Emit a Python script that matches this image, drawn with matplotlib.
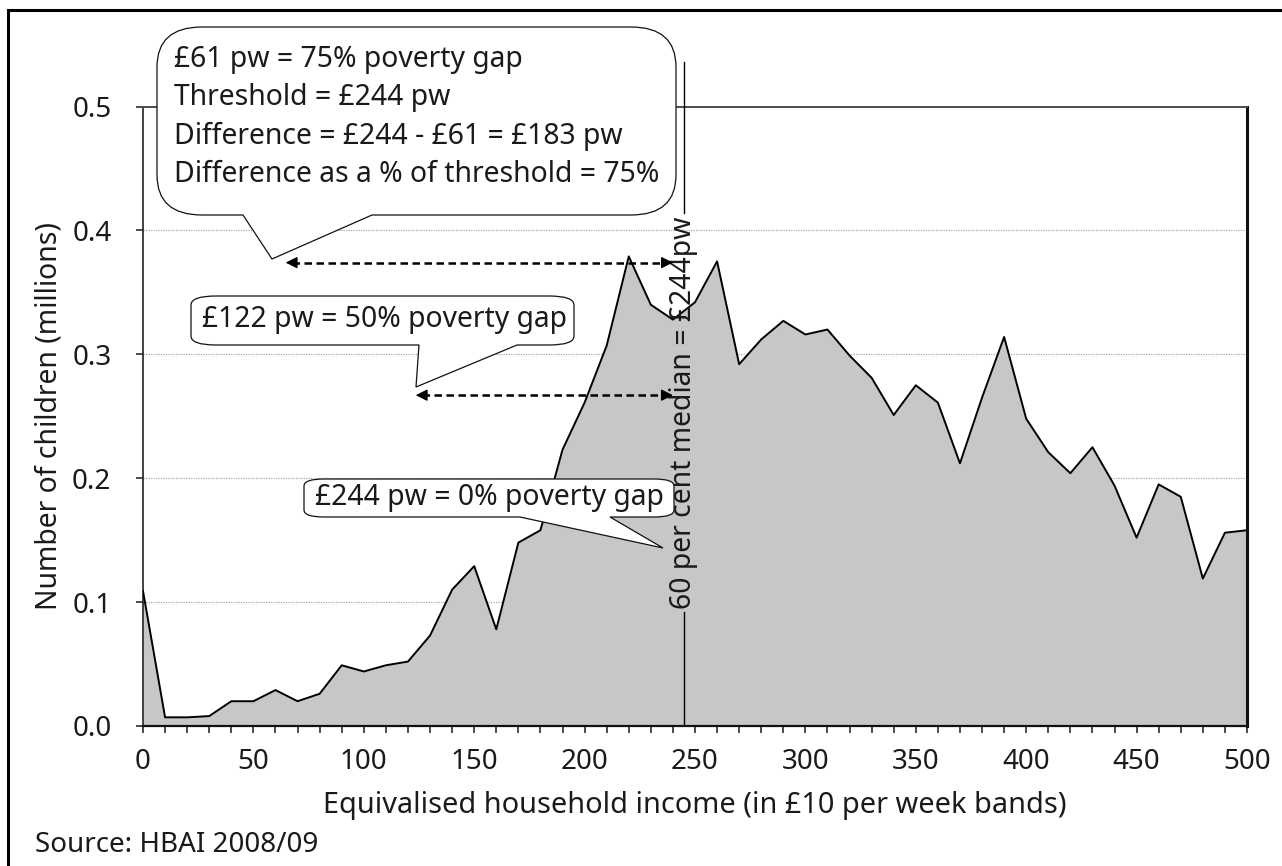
import numpy as np
import matplotlib
matplotlib.use('Agg')
import matplotlib.pyplot as plt
from matplotlib.path import Path
from matplotlib.patches import PathPatch
from matplotlib.lines import Line2D

plt.rcParams['font.family'] = ['Noto Sans', 'DejaVu Sans']

# ── Data ──────────────────────────────────────────────────────────────────────
income_band = np.arange(0, 510, 10)
children_m = [0.109, 0.007, 0.007, 0.008, 0.020, 0.020, 0.029, 0.020, 0.026, 0.049,
              0.044, 0.049, 0.052, 0.073, 0.110, 0.129, 0.078, 0.148, 0.158, 0.223,
              0.261, 0.307, 0.379, 0.340, 0.328, 0.342, 0.375, 0.292, 0.312, 0.327,
              0.316, 0.320, 0.299, 0.281, 0.251, 0.275, 0.261, 0.212, 0.265, 0.314,
              0.248, 0.221, 0.204, 0.225, 0.194, 0.152, 0.195, 0.185, 0.119, 0.156,
              0.158]

threshold_x = 245          # 60 per cent median line
gap_75_x = 64.6            # £61 pw
gap_50_x = 123.5           # £122 pw
arrow_end_x = 240
arrow_75_y = 0.374
arrow_50_y = 0.267

y_ticks = [0.0, 0.1, 0.2, 0.3, 0.4, 0.5]
x_ticks = [0, 50, 100, 150, 200, 250, 300, 350, 400, 450, 500]

W, H = 1282, 866
FS = 20
FS_NOTE = 20.4

# ── Figure ────────────────────────────────────────────────────────────────────
fig = plt.figure(figsize=(W / 100, H / 100), dpi=100)
fig.patch.set_facecolor('white')

ax = fig.add_axes([143 / W, 1 - 726 / H, 1104 / W, 619.5 / H])

ax.fill_between(income_band, 0, children_m, color='#c6c7c9', lw=0, zorder=2)
ax.plot(income_band, children_m, color='black', lw=1.4, zorder=3)

ax.set_xlim(0, 500)
ax.set_ylim(0, 0.5)
ax.set_xticks(x_ticks)
ax.set_xticks(np.arange(0, 510, 10), minor=True)
ax.set_yticks(y_ticks)
ax.set_yticklabels([f'{v:.1f}' for v in y_ticks])
ax.tick_params(axis='x', which='both', length=5, width=1.1, pad=11,
               labelsize=FS, colors='#1a1a1a')
ax.tick_params(axis='y', length=4.7, width=1.1, pad=18,
               labelsize=FS, colors='#1a1a1a')

for v in y_ticks[1:-1]:
    ax.axhline(v, color='#a8a8a8', lw=0.9, linestyle=(0, (1, 1)), zorder=1)

ax.spines['top'].set_color('#4d4d4d')
ax.spines['top'].set_linewidth(1.4)
ax.spines['right'].set_color('#111111')
ax.spines['right'].set_linewidth(2.2)
ax.spines['left'].set_color('#222222')
ax.spines['left'].set_linewidth(1.2)
ax.spines['bottom'].set_color('#111111')
ax.spines['bottom'].set_linewidth(1.6)

ax.set_xlabel('Equivalised household income (in £10 per week bands)',
              fontsize=20.8, color='#1a1a1a')
ax.xaxis.set_label_coords(0.5, (726 - 805) / 619.5)
ax.xaxis.label.set_va('center')
ax.set_ylabel('Number of children (millions)', fontsize=FS_NOTE, color='#1a1a1a')
ax.yaxis.set_label_coords((49 - 143) / 1104, 0.5)
ax.yaxis.label.set_va('center')

# ── Threshold line, broken around its label ──────────────────────────────────
ax.plot([threshold_x, threshold_x], [0, 0.092], color='black', lw=1.0, zorder=4)
ax.plot([threshold_x, threshold_x], [0.414, 0.536], color='black', lw=1.0,
        zorder=4, clip_on=False)
ax.text(threshold_x, 0.253, '60 per cent median = £244pw', rotation=90,
        ha='center', va='center', fontsize=FS_NOTE, color='#1a1a1a', zorder=5)

# ── Dashed double arrows ─────────────────────────────────────────────────────
for x0, y in [(gap_75_x, arrow_75_y), (gap_50_x, arrow_50_y)]:
    ax.plot([x0 + 3, arrow_end_x - 3], [y, y], color='black', lw=1.8,
            dashes=(3, 1.8), zorder=6)
    for xs, xe in [(x0 + 4, x0), (arrow_end_x - 4, arrow_end_x)]:
        ax.annotate('', xy=(xe, y), xytext=(xs, y),
                    arrowprops=dict(arrowstyle='-|>,head_length=0.5,head_width=0.25',
                                    color='black', lw=1, mutation_scale=14,
                                    shrinkA=0, shrinkB=0), zorder=6)


# ── Callouts (pixel coordinates, y from top) ─────────────────────────────────
def callout(x0, y0, x1, y1, rx, ry, b0, b1, tip):
    P = lambda x, y: (x / W, 1 - y / H)
    verts = [P(x0 + rx, y0), P(x1 - rx, y0),
             P(x1, y0), P(x1, y0 + ry),
             P(x1, y1 - ry),
             P(x1, y1), P(x1 - rx, y1),
             P(b1, y1), P(*tip), P(b0, y1),
             P(x0 + rx, y1),
             P(x0, y1), P(x0, y1 - ry),
             P(x0, y0 + ry),
             P(x0, y0), P(x0 + rx, y0),
             P(x0 + rx, y0)]
    codes = [Path.MOVETO, Path.LINETO,
             Path.CURVE3, Path.CURVE3,
             Path.LINETO,
             Path.CURVE3, Path.CURVE3,
             Path.LINETO, Path.LINETO, Path.LINETO,
             Path.LINETO,
             Path.CURVE3, Path.CURVE3,
             Path.LINETO,
             Path.CURVE3, Path.CURVE3,
             Path.CLOSEPOLY]
    patch = PathPatch(Path(verts, codes), facecolor='white', edgecolor='#111111',
                      lw=0.9, transform=fig.transFigure, zorder=10, clip_on=False)
    ax.add_patch(patch)


callout(157, 27, 676, 215, 45, 40, 243, 372, (272, 259))
callout(191, 296, 574, 345, 25, 9, 419, 517, (416, 387))
callout(304, 479, 674, 517, 20, 7, 520, 610, (663, 548))

lines_75 = ['£61 pw = 75% poverty gap',
            'Threshold = £244 pw',
            'Difference = £244 - £61 = £183 pw',
            'Difference as a % of threshold = 75%']
for i, s in enumerate(lines_75):
    fig.text(174 / W, 1 - (60 + 38 * i) / H, s, fontsize=FS_NOTE, ha='left',
             va='center', color='#1a1a1a', zorder=11)
fig.text(202 / W, 1 - 320 / H, '£122 pw = 50% poverty gap', fontsize=FS_NOTE,
         ha='left', va='center', color='#1a1a1a', zorder=11)
fig.text(315 / W, 1 - 498 / H, '£244 pw = 0% poverty gap', fontsize=FS_NOTE,
         ha='left', va='center', color='#1a1a1a', zorder=11)

# ── Frame and source ─────────────────────────────────────────────────────────
fig.add_artist(Line2D([8 / W, 8 / W], [0, 1 - 10 / H], color='black', lw=2.2))
fig.add_artist(Line2D([8 / W, 1], [1 - 10 / H, 1 - 10 / H], color='black', lw=2.2))
fig.text(35 / W, 1 - 845 / H, 'Source: HBAI 2008/09', fontsize=FS,
         ha='left', va='center', color='#1a1a1a')

fig.savefig('out.png', dpi=100, facecolor='white')
